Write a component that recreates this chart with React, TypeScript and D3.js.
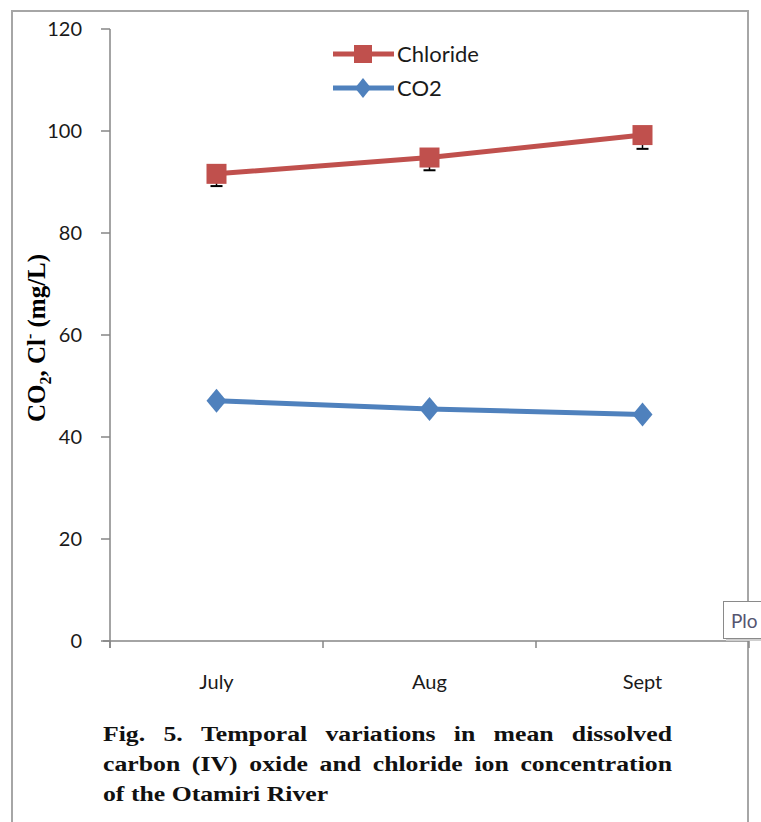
import React, { useEffect, useRef } from "react";
import * as d3 from "d3";

const months = ["July", "Aug", "Sept"];
const chloride = [91.6, 94.8, 99.2];
const chlorideErr = [2.4, 2.5, 2.7];
const co2 = [47.1, 45.5, 44.4];
const yTicks = [0, 20, 40, 60, 80, 100, 120];
const captionLines = [
  "Fig. 5. Temporal variations in mean dissolved",
  "carbon (IV) oxide and chloride ion concentration",
  "of the Otamiri River",
];

const theme = {
  red: "#C0504D",
  blue: "#4F81BD",
  axis: "#868686",
  frame: "#a6a6a6",
  tickFont: "Lato, 'Open Sans', sans-serif",
  serif: "'Liberation Serif', 'Times New Roman', serif",
};

const App = () => {
  const svgRef = useRef<SVGSVGElement | null>(null);

  useEffect(() => {
    document.body.style.margin = "0";
    const width = 761;
    const height = 822;
    const svg = d3.select(svgRef.current).attr("width", width).attr("height", height);
    svg.selectAll("*").remove();

    svg.append("rect").attr("width", width).attr("height", height).attr("fill", "#fff");

    // outer frame (open at the bottom)
    svg
      .append("path")
      .attr("d", "M12,830 L12,11 L748,11 L748,830")
      .attr("fill", "none")
      .attr("stroke", theme.frame)
      .attr("stroke-width", 2);

    const x = d3.scaleBand().domain(months).range([110, 749]);
    const y = d3.scaleLinear().domain([0, 120]).range([641, 29]);

    // y axis
    svg
      .append("line")
      .attr("x1", 110).attr("x2", 110)
      .attr("y1", y(120)).attr("y2", y(0) + 7)
      .attr("stroke", theme.axis).attr("stroke-width", 1.5);
    const yg = svg.append("g");
    yg.selectAll("line")
      .data(yTicks)
      .enter()
      .append("line")
      .attr("x1", 101).attr("x2", 110)
      .attr("y1", (d) => y(d)).attr("y2", (d) => y(d))
      .attr("stroke", theme.axis).attr("stroke-width", 1.5);
    yg.selectAll("text")
      .data(yTicks)
      .enter()
      .append("text")
      .attr("x", 82)
      .attr("y", (d) => y(d) + 7)
      .attr("text-anchor", "end")
      .attr("fill", "#1a1a1a")
      .style("font-size", "20px")
      .style("font-family", theme.tickFont)
      .text((d) => d);

    // x axis
    svg
      .append("line")
      .attr("x1", 103).attr("x2", 749)
      .attr("y1", y(0)).attr("y2", y(0))
      .attr("stroke", theme.axis).attr("stroke-width", 1.5);
    const edges = [...months.map((m) => x(m) as number), 749];
    svg
      .append("g")
      .selectAll("line")
      .data(edges)
      .enter()
      .append("line")
      .attr("x1", (d) => d).attr("x2", (d) => d)
      .attr("y1", y(0)).attr("y2", y(0) + 7)
      .attr("stroke", theme.axis).attr("stroke-width", 1.5);
    const cx = (m: string) => (x(m) as number) + x.bandwidth() / 2;
    svg
      .append("g")
      .selectAll("text")
      .data(months)
      .enter()
      .append("text")
      .attr("x", (d) => cx(d))
      .attr("y", 689)
      .attr("text-anchor", "middle")
      .attr("fill", "#1a1a1a")
      .style("font-size", "20px")
      .style("font-family", theme.tickFont)
      .text((d) => d);

    // y label
    const yl = svg
      .append("text")
      .attr("transform", "translate(45,338) rotate(-90)")
      .attr("text-anchor", "middle")
      .attr("fill", "#000")
      .style("font-size", "25px")
      .style("font-weight", "bold")
      .style("font-family", theme.serif);
    yl.append("tspan").text("CO");
    yl.append("tspan").attr("dy", 6).style("font-size", "16px").text("2");
    yl.append("tspan").attr("dy", -6).text(", Cl");
    yl.append("tspan").attr("dy", -10).style("font-size", "16px").text("-");
    yl.append("tspan").attr("dy", 10).text(" (mg/L)");

    const line = d3
      .line<number>()
      .x((_, i) => cx(months[i]))
      .y((d) => y(d));

    // chloride error bars (minus only)
    const eb = svg.append("g");
    chloride.forEach((v, i) => {
      const px = cx(months[i]);
      const lo = y(v - chlorideErr[i]);
      eb.append("line").attr("x1", px).attr("x2", px).attr("y1", y(v)).attr("y2", lo)
        .attr("stroke", "#000").attr("stroke-width", 1.5);
      eb.append("line").attr("x1", px - 6).attr("x2", px + 6).attr("y1", lo).attr("y2", lo)
        .attr("stroke", "#000").attr("stroke-width", 2);
    });

    svg.append("path").datum(chloride).attr("d", line)
      .attr("fill", "none").attr("stroke", theme.red).attr("stroke-width", 5);
    svg.append("g").selectAll("rect").data(chloride).enter().append("rect")
      .attr("x", (_, i) => cx(months[i]) - 10)
      .attr("y", (d) => y(d) - 10)
      .attr("width", 20).attr("height", 20)
      .attr("fill", theme.red);

    svg.append("path").datum(co2).attr("d", line)
      .attr("fill", "none").attr("stroke", theme.blue).attr("stroke-width", 5);
    const diamond = "M0,-12 L10,0 L0,12 L-10,0 Z";
    svg.append("g").selectAll("path").data(co2).enter().append("path")
      .attr("d", diamond)
      .attr("transform", (d, i) => `translate(${cx(months[i])},${y(d)})`)
      .attr("fill", theme.blue);

    // legend
    const legend = [
      { name: "Chloride", color: theme.red, y: 54, shape: "square" },
      { name: "CO2", color: theme.blue, y: 88, shape: "diamond" },
    ];
    const lg = svg.append("g");
    legend.forEach((l) => {
      lg.append("line").attr("x1", 333).attr("x2", 394).attr("y1", l.y).attr("y2", l.y)
        .attr("stroke", l.color).attr("stroke-width", 5);
      if (l.shape === "square") {
        lg.append("rect").attr("x", 354).attr("y", l.y - 9).attr("width", 18).attr("height", 18)
          .attr("fill", l.color);
      } else {
        lg.append("path").attr("d", "M0,-10 L8,0 L0,10 L-8,0 Z")
          .attr("transform", `translate(363,${l.y})`).attr("fill", l.color);
      }
      lg.append("text").attr("x", 397).attr("y", l.y + 8)
        .attr("fill", "#1a1a1a")
        .style("font-size", "22px")
        .style("font-family", theme.tickFont)
        .text(l.name);
    });

    // tooltip box at the right edge
    svg.append("rect").attr("x", 726).attr("y", 604).attr("width", 40).attr("height", 37)
      .attr("fill", "#cfcfcf");
    svg.append("rect").attr("x", 723.5).attr("y", 601.5).attr("width", 45).attr("height", 37)
      .attr("fill", "#fff").attr("stroke", "#8a8a8a").attr("stroke-width", 1);
    svg.append("text").attr("x", 731).attr("y", 628)
      .attr("fill", "#555570")
      .style("font-size", "19px")
      .style("font-family", theme.tickFont)
      .text("Plo");

    // caption: justified, horizontally stretched bold serif
    const cap = svg.append("g");
    const left = 103;
    const right = 672;
    const sx = 1.17;
    captionLines.forEach((t, i) => {
      const words = t.split(" ");
      const by = 741 + i * 30;
      const nodes = words.map((w) =>
        cap.append("text")
          .attr("fill", "#111")
          .style("font-size", "22px")
          .style("font-weight", "bold")
          .style("font-family", theme.serif)
          .text(w)
      );
      const widths = nodes.map((n) => (n.node() as SVGTextElement).getComputedTextLength() * sx);
      const total = d3.sum(widths);
      const last = i === captionLines.length - 1;
      const gap = last ? 5.5 * sx : (right - left - total) / (words.length - 1);
      let px = left;
      nodes.forEach((n, k) => {
        n.attr("transform", `translate(${px},${by}) scale(${sx},1)`);
        px += widths[k] + gap;
      });
    });
  }, []);

  return <svg ref={svgRef}></svg>;
};

export default App;
